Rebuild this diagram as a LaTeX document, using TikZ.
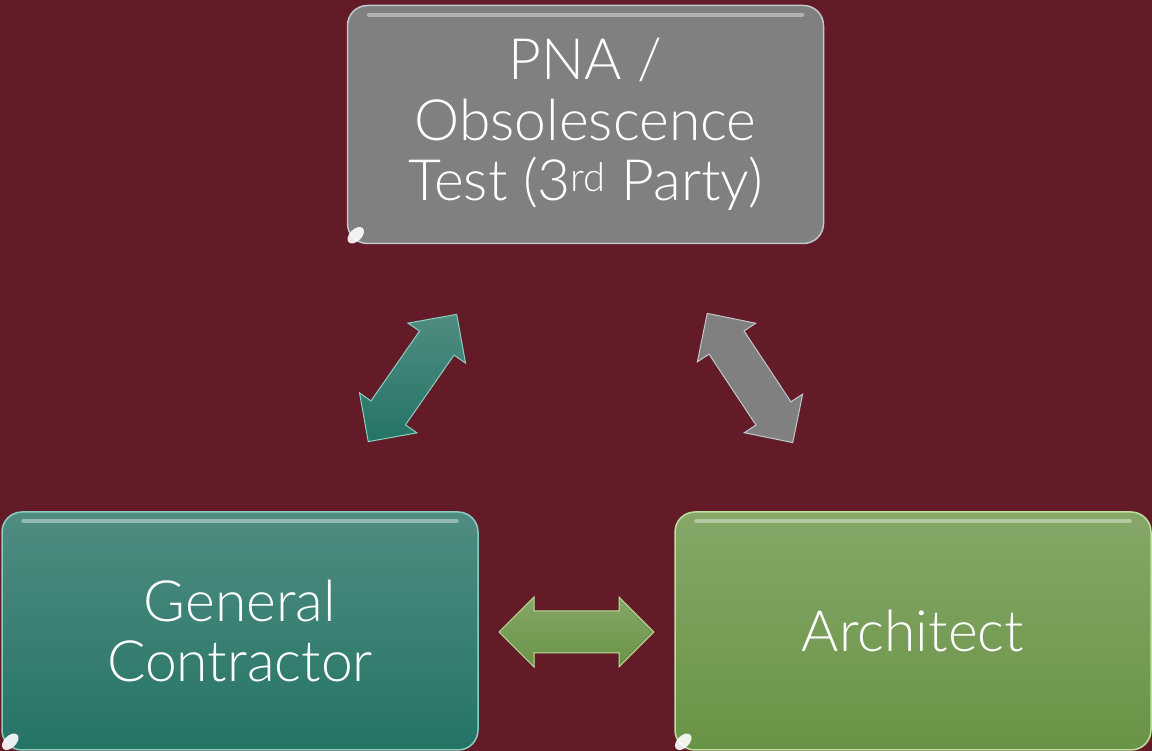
\documentclass[tikz,border=0pt]{standalone}
\usepackage{fontspec}
\setmainfont{Lato}[UprightFont=* Light]
\definecolor{bg}{RGB}{99,28,39}
\definecolor{greyfill}{RGB}{128,128,128}
\definecolor{greyedge}{RGB}{190,200,205}
\definecolor{tealtop}{RGB}{80,140,130}
\definecolor{tealbot}{RGB}{36,116,102}
\definecolor{tealedge}{RGB}{140,205,195}
\definecolor{greentop}{RGB}{134,167,104}
\definecolor{greenbot}{RGB}{105,147,70}
\definecolor{greenedge}{RGB}{190,225,160}
\newcommand{\dblarrowpath}{(-77.5,0) -- (-42.5,35) -- (-42.5,21) -- (42.5,21) -- (42.5,35) -- (77.5,0) -- (42.5,-35) -- (42.5,-21) -- (-42.5,-21) -- (-42.5,-35) -- cycle}
\begin{document}
\begin{tikzpicture}[x=1pt,y=1pt,
  box/.style={rounded corners=20pt, line width=1.5pt, minimum width=476pt, minimum height=238pt,
    inner sep=0pt, align=center, text=white, font=\fontsize{57}{60.5}\selectfont},
  hilite/.style={white, opacity=0.4, line width=4pt, line cap=round},
  blob/.style={white, opacity=0.9},
  arrowpoly/.style={line width=1pt, line join=miter}]
\fill[bg] (0,0) rectangle (1152,751);
\useasboundingbox (0,0) rectangle (1152,751);

% boxes
\node[box, fill=greyfill, draw=greyedge] (pna) at (585.5,626.5)
  {PNA /\\Obsolescence\\Test (3\textsuperscript{rd} Party)};
\node[box, top color=tealtop, bottom color=tealbot, draw=tealedge] (gc) at (240,120)
  {General\\Contractor};
\node[box, top color=greentop, bottom color=greenbot, draw=greenedge] (arch) at (913,120)
  {Architect};

% highlights
\foreach \n in {pna,gc,arch}{
  \draw[hilite] ([xshift=22pt,yshift=-10pt]\n.north west) -- ([xshift=-22pt,yshift=-10pt]\n.north east);
  \fill[blob, shift={([xshift=9pt,yshift=9pt]\n.south west)}, rotate=45] (0,0) ellipse (10pt and 6pt);
}

% connectors (block double arrows)
\coordinate (gcpna) at (412.5,373);
\coordinate (pnaarch) at (750,373);
\coordinate (gcarch) at (576.5,119);
\draw[arrowpoly, draw=tealedge, top color=tealtop, bottom color=tealbot, shift={(gcpna)}, rotate=55.2] \dblarrowpath;
\draw[arrowpoly, draw=greyedge, fill=greyfill, shift={(pnaarch)}, rotate=123.5] \dblarrowpath;
\draw[arrowpoly, draw=greenedge, top color=greentop, bottom color=greenbot, shift={(gcarch)}] \dblarrowpath;
\end{tikzpicture}
\end{document}
